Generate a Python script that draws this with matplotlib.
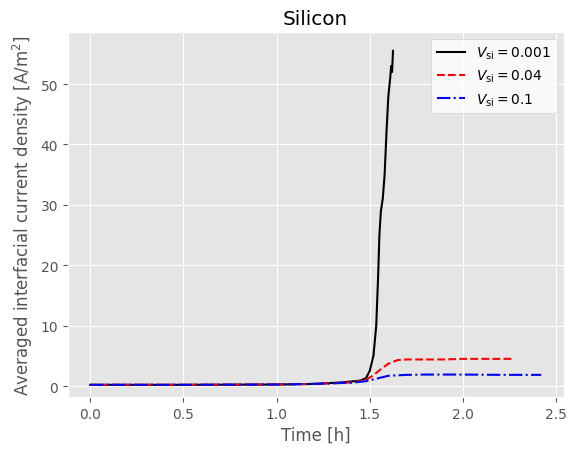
import matplotlib
matplotlib.use("Agg")
import matplotlib.pyplot as plt

plt.style.use("ggplot")

t_k = [0.0, 0.5, 1.0, 1.2, 1.35, 1.45, 1.48, 1.5, 1.52, 1.535, 1.545, 1.552, 1.56, 1.57, 1.58, 1.59, 1.6, 1.61, 1.615, 1.62, 1.625]
j_k = [0.2, 0.2, 0.25, 0.35, 0.6, 0.9, 1.3, 2.5, 5.0, 10.0, 18.0, 25.0, 29.0, 31.0, 35.0, 42.0, 48.0, 51.0, 53.0, 52.0, 55.5]
t_r = [0.0, 0.5, 1.0, 1.2, 1.4, 1.48, 1.52, 1.56, 1.6, 1.65, 1.7, 1.8, 1.9, 2.0, 2.1, 2.27]
j_r = [0.2, 0.2, 0.25, 0.35, 0.6, 1.0, 1.8, 2.8, 3.7, 4.3, 4.4, 4.4, 4.4, 4.5, 4.5, 4.5]
t_b = [0.0, 0.5, 1.0, 1.2, 1.4, 1.48, 1.52, 1.56, 1.6, 1.7, 1.8, 2.0, 2.2, 2.42]
j_b = [0.2, 0.2, 0.25, 0.35, 0.55, 0.8, 1.1, 1.4, 1.7, 1.85, 1.9, 1.9, 1.85, 1.85]

fig, ax = plt.subplots(figsize=(5.75, 4.6), dpi=100)
ax.plot(t_k, j_k, color="black", linestyle="-", label=r"$V_{\mathrm{si}} = 0.001$")
ax.plot(t_r, j_r, color="red", linestyle="--", label=r"$V_{\mathrm{si}} = 0.04$")
ax.plot(t_b, j_b, color="blue", linestyle="-.", label=r"$V_{\mathrm{si}} = 0.1$")
ax.set_xlim(-0.12, 2.54)
ax.set_ylim(-1.8, 58.6)
ax.set_title("Silicon")
ax.set_xlabel("Time [h]")
ax.set_ylabel(r"Averaged interfacial current density [A/m$^2$]")
ax.legend(loc="upper right", facecolor="white")
fig.subplots_adjust(left=0.118, right=0.98, top=0.928, bottom=0.135)
fig.savefig("out.png", dpi=100)
